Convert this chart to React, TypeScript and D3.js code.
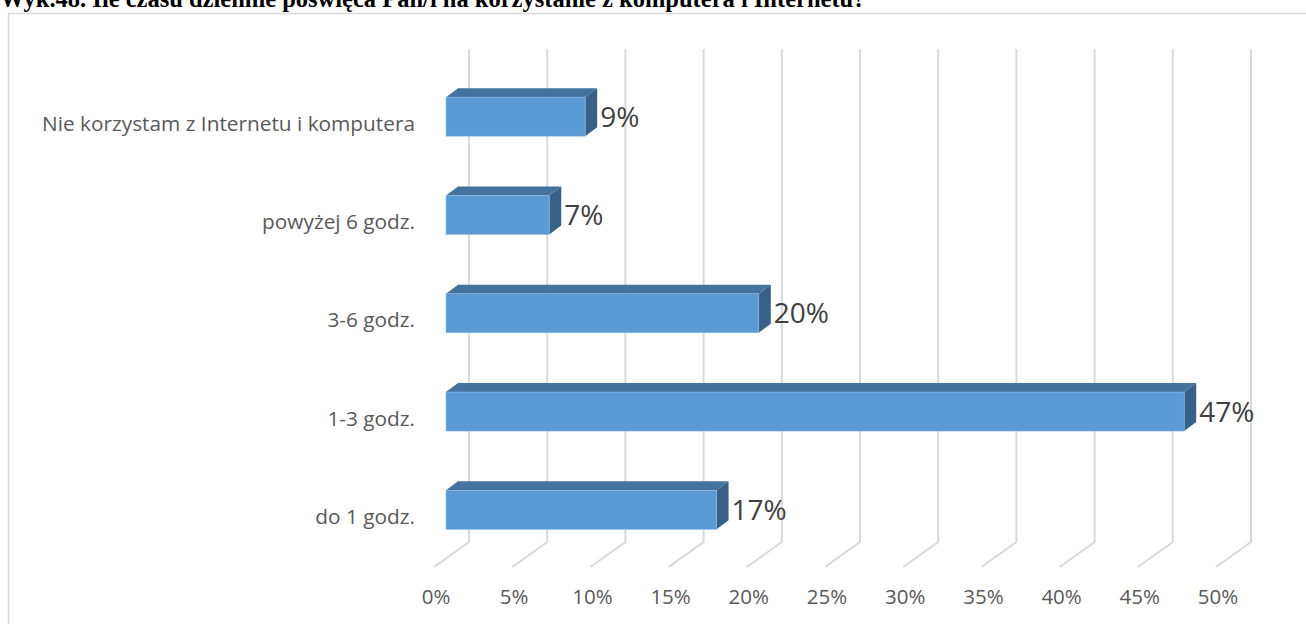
import React from "react";
import * as d3 from "d3";

const title = "Wyk.48. Ile czasu dziennie poświęca Pan/i na korzystanie z komputera i Internetu?";
const categories = [
  "Nie korzystam z Internetu i komputera",
  "powyżej 6 godz.",
  "3-6 godz.",
  "1-3 godz.",
  "do 1 godz.",
];
const values = [0.089, 0.066, 0.2, 0.472, 0.173];
const valueLabels = ["9%", "7%", "20%", "47%", "17%"];
const ticks = [0, 0.05, 0.1, 0.15, 0.2, 0.25, 0.3, 0.35, 0.4, 0.45, 0.5];

const W = 1306;
const H = 624;

export default function App() {
  const x = d3.scaleLinear().domain([0, 0.5]).range([469, 1251]);
  const wallTop = 49;
  const wallBottom = 542;
  const floorDx = -35;
  const floorDy = 25;
  const barDx = -23;
  const depthDx = 12;
  const depthDy = -9;
  const y = d3.scaleBand<string>().domain(categories).range([67.5, 559]).paddingInner(0).paddingOuter(0);
  const barH = 39;
  const fmt = d3.format(".0%");
  const font = "'Open Sans', 'Noto Sans', sans-serif";

  return (
    <svg
      width={W}
      height={H}
      style={{ position: "absolute", left: 0, top: 0, display: "block", background: "#fff" }}
    >
      <text x={0} y={7} fontFamily="'Liberation Serif', 'Times New Roman', serif" fontWeight="bold" fontSize={24.5} fill="#000">
        {title}
      </text>
      <path d={`M${W + 5},13.5 H8.5 V${H + 5}`} fill="none" stroke="#d9d9d9" strokeWidth={1.5} />
      {ticks.map((t, i) => (
        <path
          key={i}
          d={`M${x(t)},${wallTop} V${wallBottom} l${floorDx},${floorDy}`}
          fill="none"
          stroke="#d9d9d9"
          strokeWidth={2}
        />
      ))}
      {ticks.map((t, i) => (
        <text
          key={"t" + i}
          x={x(t) + floorDx + 2}
          y={604}
          textAnchor="middle"
          fontFamily={font}
          fontSize={20.5}
          fill="#595959"
        >
          {fmt(t)}
        </text>
      ))}
      {categories.map((c, i) => {
        const cy = (y(c) as number) + y.bandwidth() / 2;
        const top = cy - barH / 2;
        const x0 = x(0) + barDx;
        const x1 = x(values[i]) + barDx;
        return (
          <g key={c}>
            <polygon
              points={`${x0},${top} ${x0 + depthDx},${top + depthDy} ${x1 + depthDx},${top + depthDy} ${x1},${top}`}
              fill="#44739f"
            />
            <polygon
              points={`${x1},${top} ${x1 + depthDx},${top + depthDy} ${x1 + depthDx},${top + barH + depthDy} ${x1},${top + barH}`}
              fill="#38618a"
            />
            <rect x={x0} y={top} width={x1 - x0} height={barH} fill="#5b9bd5" stroke="#8fb9e3" strokeWidth={0.6} />
            <text x={x1 + 15} y={cy + 10} fontFamily={font} fontSize={28} fill="#404040">
              {valueLabels[i]}
            </text>
            <text x={415} y={cy + 14} textAnchor="end" fontFamily={font} fontSize={20.8} fill="#595959">
              {c}
            </text>
          </g>
        );
      })}
    </svg>
  );
}
